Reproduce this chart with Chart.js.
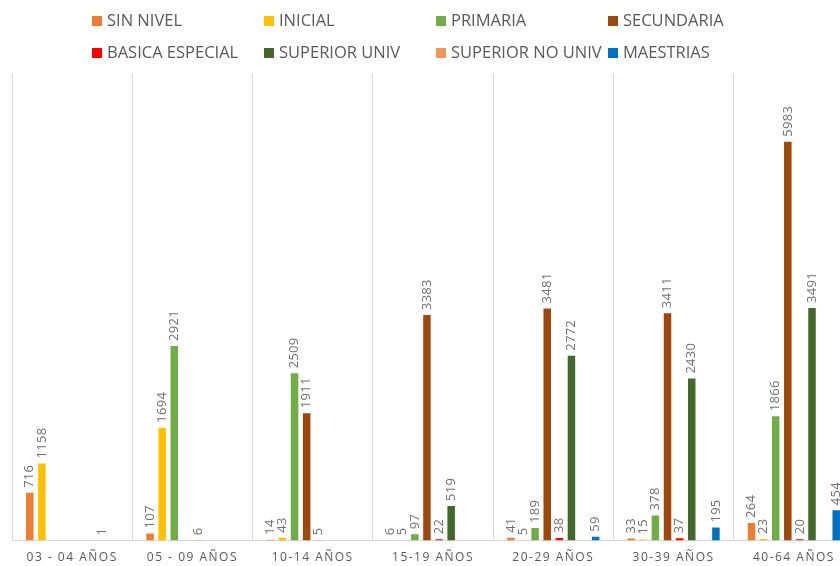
<!DOCTYPE html>
<html>
<head>
<meta charset="utf-8">
<script src="https://cdn.jsdelivr.net/npm/chart.js@4"></script>
<style>
  html, body { margin: 0; padding: 0; background: #fff; overflow: hidden; width: 840px; height: 566px; }
  #wrap { position: absolute; left: 0; top: 0; width: 860px; height: 577px; }
  #legend { position: absolute; left: 92px; top: 9px; font-family: "Open Sans", sans-serif; font-size: 16.5px; color: #595959; }
  .item { position: absolute; white-space: nowrap; line-height: 22px; }
  .sw { display: inline-block; width: 10px; height: 10px; margin-right: 5px; vertical-align: 0px; }
</style>
</head>
<body>
<div id="wrap"><canvas id="c" width="860" height="577"></canvas></div>
<div id="legend"></div>
<script>
const categories = ["03 - 04 AÑOS", "05 - 09 AÑOS", "10-14 AÑOS", "15-19 AÑOS", "20-29 AÑOS", "30-39 AÑOS", "40-64 AÑOS"];
const seriesNames = ["SIN NIVEL", "INICIAL", "PRIMARIA", "SECUNDARIA", "BASICA ESPECIAL", "SUPERIOR UNIV", "SUPERIOR NO UNIV", "MAESTRIAS"];
const seriesColors = ["#ED7D31", "#FFC000", "#70AD47", "#9E480E", "#FF0000", "#43682B", "#F1975A", "#0070C0"];
const sinNivel       = [716, 107, 14, 6, 41, 33, 264];
const inicial        = [1158, 1694, 43, 5, 5, 15, 23];
const primaria       = [null, 2921, 2509, 97, 189, 378, 1866];
const secundaria     = [null, null, 1911, 3383, 3481, 3411, 5983];
const basicaEspecial = [null, 6, 5, 22, 38, 37, 20];
const superiorUniv   = [null, null, null, 519, 2772, 2430, 3491];
const superiorNoUniv = [1, null, null, null, null, null, null];
const maestrias      = [null, null, null, null, 59, 195, 454];
const seriesValues = [sinNivel, inicial, primaria, secundaria, basicaEspecial, superiorUniv, superiorNoUniv, maestrias];

// HTML legend (4 columns x 2 rows)
const leg = document.getElementById('legend');
seriesNames.forEach((n, i) => {
  const d = document.createElement('div');
  d.className = 'item';
  d.style.left = ((i % 4) * 172) + 'px';
  d.style.top = (Math.floor(i / 4) * 32) + 'px';
  d.innerHTML = '<span class="sw" style="background:' + seriesColors[i] + '"></span>' + n;
  leg.appendChild(d);
});

const labelPlugin = {
  id: 'barLabels',
  beforeDraw(chart) { chart.ctx.letterSpacing = '1.5px'; },
  beforeDatasetsDraw(chart) { chart.ctx.letterSpacing = '0px'; },
  afterDatasetsDraw(chart) {
    const ctx = chart.ctx;
    ctx.save();
    ctx.letterSpacing = '0.3px';
    ctx.font = '13px "Open Sans", sans-serif';
    ctx.fillStyle = '#707070';
    ctx.textAlign = 'left';
    ctx.textBaseline = 'middle';
    chart.data.datasets.forEach((ds, di) => {
      const meta = chart.getDatasetMeta(di);
      meta.data.forEach((el, i) => {
        const v = ds.data[i];
        if (v === null || v === undefined) return;
        ctx.save();
        ctx.translate(el.x, el.y - 5);
        ctx.rotate(-Math.PI / 2);
        ctx.fillText(String(v), 0, 0);
        ctx.restore();
      });
    });
    ctx.restore();
  }
};

new Chart(document.getElementById('c'), {
  type: 'bar',
  data: {
    labels: categories,
    datasets: seriesNames.map((n, i) => ({
      label: n,
      data: seriesValues[i],
      backgroundColor: seriesColors[i],
      categoryPercentage: 0.805,
      barPercentage: 0.62
    }))
  },
  options: {
    responsive: false,
    animation: false,
    devicePixelRatio: 1,
    layout: { padding: { left: 12, right: 6, top: 74, bottom: 2 } },
    plugins: { legend: { display: false }, tooltip: { enabled: false } },
    scales: {
      x: {
        grid: { display: true, offset: true, color: '#D9D9D9', lineWidth: 1, drawTicks: false },
        border: { display: true, color: '#D9D9D9', width: 1 },
        ticks: { color: '#595959', font: { family: '"Open Sans", sans-serif', size: 12 }, padding: 10, maxRotation: 0, autoSkip: false }
      },
      y: {
        display: false,
        min: 0,
        max: 7000
      }
    }
  },
  plugins: [labelPlugin]
});
</script>
</body>
</html>
